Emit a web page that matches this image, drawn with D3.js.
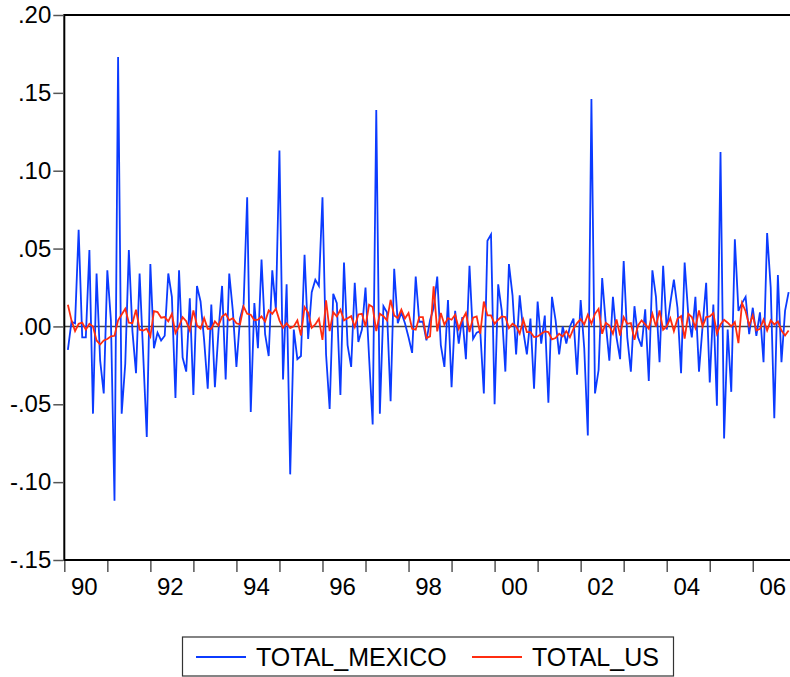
<!DOCTYPE html>
<html>
<head>
<meta charset="utf-8">
<script src="https://cdn.jsdelivr.net/npm/d3@7"></script>
<style>
  body { margin: 0; background: #fff; }
  svg { display: block; font-family: "Liberation Sans", Arial, sans-serif; }
</style>
</head>
<body>
<div id="wrapper"></div>
<script>
// monthly growth rates, Feb 1990 .. Nov 2006
const startYear = 1990;
const startMonth = 2;

const totalMexico = [
  -0.015, 0.003, 0.002, 0.062, -0.007, -0.007, 0.049, -0.056, 0.034, -0.022,
  -0.043, 0.036, 0.004, -0.112, 0.173, -0.056, -0.024, 0.049, -0.003, -0.030,
  0.034, -0.018, -0.071, 0.040, -0.014, -0.004, -0.009, -0.006, 0.034, 0.019,
  -0.046, 0.036, -0.020, -0.029, 0.018, -0.044, 0.026, 0.016, -0.009, -0.040,
  0.014, -0.039, -0.003, 0.026, -0.034, 0.034, 0.010, -0.026, 0.005, 0.014,
  0.083, -0.055, 0.015, -0.014, 0.043, -0.005, -0.019, 0.036, 0.011, 0.113,
  -0.034, 0.027, -0.095, -0.002, -0.021, -0.019, 0.046, -0.008, 0.022, 0.030,
  0.026, 0.083, -0.018, -0.053, 0.021, 0.015, -0.044, 0.041, -0.012, -0.026,
  0.028, -0.010, -0.002, 0.025, -0.020, -0.063, 0.139, -0.056, 0.013, 0.009,
  -0.048, 0.037, 0.002, 0.009, 0.002, -0.007, -0.017, 0.032, 0.003, 0.003,
  -0.009, 0.004, 0.012, 0.032, -0.012, -0.026, 0.017, -0.039, 0.010, -0.011,
  0.006, -0.021, 0.039, -0.008, -0.004, -0.003, -0.043, 0.055, 0.059, -0.050,
  0.027, 0.010, -0.029, 0.040, 0.020, -0.018, 0.020, -0.003, -0.018, 0.005,
  -0.040, 0.016, -0.011, 0.007, -0.049, 0.019, 0.004, -0.018, 0.000, -0.011,
  0.000, 0.005, -0.031, 0.017, -0.014, -0.070, 0.146, -0.043, -0.028, 0.031,
  0.002, -0.022, 0.019, -0.007, -0.021, 0.042, -0.007, -0.029, 0.013, -0.007,
  -0.013, 0.011, -0.035, 0.036, 0.019, -0.023, 0.039, -0.002, 0.015, 0.030,
  0.012, -0.030, 0.041, 0.008, -0.007, 0.019, -0.029, 0.000, 0.028, -0.036,
  0.014, -0.051, 0.112, -0.072, -0.002, -0.042, 0.056, 0.010, 0.015, 0.019,
  -0.005, 0.012, -0.006, 0.009, -0.023, 0.060, 0.025, -0.059, 0.033, -0.023,
  0.010, 0.022
];

const totalUS = [
  0.0139, 0.0039, -0.0030, 0.0017, 0.0024, -0.0021, 0.0017, 0.0000, -0.0090, -0.0116,
  -0.0090, -0.0081, -0.0064, -0.0060, 0.0039, 0.0077, 0.0113, 0.0024, 0.0021, 0.0107,
  -0.0021, -0.0026, -0.0015, -0.0064, 0.0098, 0.0092, 0.0056, 0.0060, 0.0032, 0.0081,
  -0.0043, 0.0000, 0.0060, 0.0034, -0.0026, 0.0103, 0.0006, -0.0015, 0.0053, -0.0015,
  -0.0015, 0.0032, 0.0006, 0.0064, 0.0081, 0.0039, 0.0053, 0.0020, 0.0013, 0.0128,
  0.0081, 0.0075, 0.0039, 0.0043, 0.0064, 0.0032, 0.0103, 0.0081, 0.0113, 0.0039,
  -0.0009, 0.0021, -0.0011, 0.0000, 0.0039, -0.0058, 0.0124, 0.0088, -0.0009, 0.0013,
  0.0049, -0.0086, 0.0167, -0.0030, 0.0092, 0.0064, 0.0107, 0.0039, 0.0053, 0.0066,
  -0.0004, 0.0077, 0.0081, 0.0000, 0.0139, 0.0124, -0.0030, 0.0081, 0.0066, 0.0039,
  0.0171, 0.0071, 0.0053, 0.0108, 0.0051, 0.0086, -0.0015, -0.0021, 0.0060, 0.0060,
  -0.0075, -0.0064, 0.0257, -0.0032, 0.0086, 0.0011, 0.0053, 0.0043, 0.0075, -0.0015,
  0.0043, 0.0086, -0.0036, 0.0056, 0.0064, -0.0047, 0.0160, 0.0071, 0.0071, 0.0017,
  0.0043, 0.0064, 0.0060, -0.0011, 0.0017, 0.0000, -0.0047, 0.0043, -0.0036, -0.0036,
  -0.0068, -0.0064, -0.0047, -0.0032, -0.0036, -0.0083, -0.0075, -0.0047, -0.0064, -0.0030,
  -0.0070, -0.0015, 0.0022, 0.0046, 0.0013, 0.0075, 0.0017, 0.0081, 0.0113, -0.0047,
  0.0024, 0.0006, -0.0047, 0.0045, -0.0058, 0.0060, 0.0017, 0.0021, -0.0086, 0.0006,
  0.0039, 0.0013, -0.0015, 0.0081, 0.0000, 0.0103, -0.0021, 0.0000, 0.0053, -0.0030,
  0.0049, 0.0066, -0.0079, 0.0081, 0.0060, -0.0009, 0.0103, 0.0000, 0.0060, 0.0064,
  0.0086, -0.0047, 0.0013, 0.0043, 0.0024, 0.0000, 0.0028, -0.0107, 0.0150, 0.0098,
  0.0006, 0.0071, -0.0026, -0.0015, 0.0043, -0.0026, 0.0039, 0.0013, 0.0032, -0.0026,
  -0.0058, -0.0026
];

const yTicks = [0.20, 0.15, 0.10, 0.05, 0.00, -0.05, -0.10, -0.15];
const yearTicks = d3.range(1990, 2008);
const yearLabels = [1990, 1992, 1994, 1996, 1998, 2000, 2002, 2004, 2006];

const seriesNames = ["TOTAL_MEXICO", "TOTAL_US"];
const seriesColors = ["#0b3bff", "#ff2c10"];

const dimension = {
  width: 790,
  height: 677,
  left: 64.3,
  top: 15,
  bottom: 560,
  yearWidth: 43.03
};

const svg = d3.select("#wrapper").append("svg")
  .attr("width", dimension.width)
  .attr("height", dimension.height);

const xScaler = d3.scaleLinear()
  .domain([1990, 2007])
  .range([dimension.left, dimension.left + dimension.yearWidth * 17]);

const yScaler = d3.scaleLinear()
  .domain([-0.15, 0.20])
  .range([dimension.bottom, dimension.top]);

const timeOf = (i) => startYear + (startMonth - 1 + i) / 12;

// zero line
svg.append("line")
  .attr("x1", xScaler(1990)).attr("x2", xScaler(2007))
  .attr("y1", yScaler(0)).attr("y2", yScaler(0))
  .attr("stroke", "#444").attr("stroke-width", 1.5);

const lineGenerator = d3.line()
  .x((d, i) => xScaler(timeOf(i)))
  .y(d => yScaler(d));

[totalMexico, totalUS].forEach((s, k) => {
  svg.append("path")
    .datum(s)
    .attr("d", lineGenerator)
    .attr("fill", "none")
    .attr("stroke", seriesColors[k])
    .attr("stroke-width", 1.8)
    .attr("stroke-linejoin", "miter");
});

// frame
svg.append("path")
  .attr("d", `M${xScaler(2007)},${dimension.top}H${dimension.left}V${dimension.bottom}H${xScaler(2007)}`)
  .attr("fill", "none")
  .attr("stroke", "#000")
  .attr("stroke-width", 2);

// y axis
const yAxis = d3.axisLeft(yScaler)
  .tickValues(yTicks)
  .tickSize(10)
  .tickPadding(2)
  .tickFormat(d => d3.format(".2f")(d).replace("\u2212", "-").replace("0.", "."));

const gy = svg.append("g")
  .attr("transform", `translate(${dimension.left - 1},0)`)
  .call(yAxis);
gy.select(".domain").remove();
gy.selectAll(".tick line").attr("stroke", "#555").attr("stroke-width", 1.5);
gy.selectAll(".tick text")
  .attr("fill", "#000")
  .style("font-size", "24px")
  .style("font-family", "'Liberation Sans', Arial, sans-serif");

// x axis: yearly ticks, labels every two years centered in year
const xAxis = d3.axisBottom(xScaler)
  .tickValues(yearTicks)
  .tickSize(11)
  .tickFormat("");

const gx = svg.append("g")
  .attr("transform", `translate(0,${dimension.bottom + 1})`)
  .call(xAxis);
gx.select(".domain").remove();
gx.selectAll(".tick line").attr("stroke", "#555").attr("stroke-width", 1.5);

svg.append("g").selectAll("text")
  .data(yearLabels)
  .join("text")
  .attr("x", d => xScaler(d + 0.5) - 1.5)
  .attr("y", 595)
  .attr("text-anchor", "middle")
  .style("font-size", "24px")
  .text(d => String(d % 100).padStart(2, "0"));

// legend
const legend = svg.append("g");
legend.append("rect")
  .attr("x", 182.5).attr("y", 637)
  .attr("width", 491).attr("height", 39)
  .attr("fill", "#fff")
  .attr("stroke", "#333")
  .attr("stroke-width", 1.2);

const legendX = [196, 472];
seriesNames.forEach((name, k) => {
  legend.append("line")
    .attr("x1", legendX[k]).attr("x2", legendX[k] + 50)
    .attr("y1", 657).attr("y2", 657)
    .attr("stroke", seriesColors[k])
    .attr("stroke-width", 1.8);
  legend.append("text")
    .attr("x", legendX[k] + 60)
    .attr("y", 665.5)
    .style("font-size", "25px")
    .text(name);
});
</script>
</body>
</html>
